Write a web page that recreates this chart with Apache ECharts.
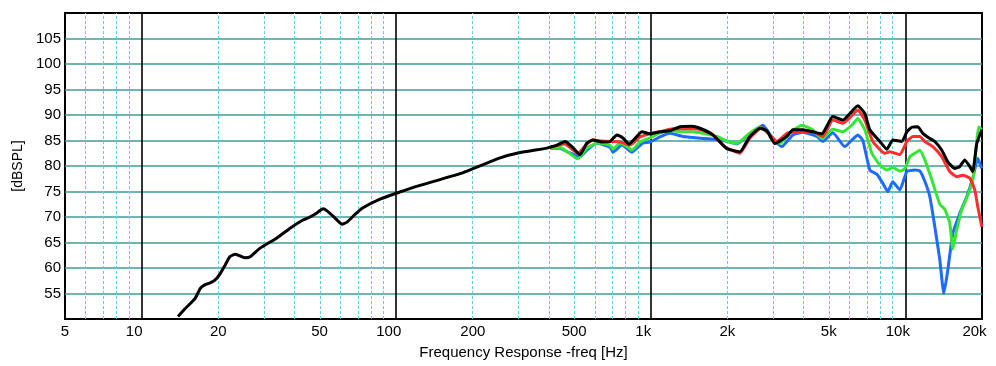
<!DOCTYPE html>
<html>
<head>
<meta charset="utf-8">
<script src="https://cdn.jsdelivr.net/npm/echarts@6/dist/echarts.min.js"></script>
<style>
html,body{margin:0;padding:0;background:#fff;}
#chart{width:996px;height:366px;}
</style>
</head>
<body>
<div id="chart"></div>
<script>
// ---- Axis ticks ----
const xTickFreqs = [5, 10, 20, 50, 100, 200, 500, 1000, 2000, 5000, 10000, 20000];
const xTickLabels = ['5', '10', '20', '50', '100', '200', '500', '1k', '2k', '5k', '10k', '20k'];
const shiftedLabels = ['10', '100', '1k', '10k', '20k'];
const minorFreqs = [6, 7, 8, 9, 20, 30, 40, 50, 60, 70, 80, 90, 200, 300, 400, 500, 600, 700, 800, 900,
  2000, 3000, 4000, 5000, 6000, 7000, 8000, 9000];
const decadeFreqs = [10, 100, 1000, 10000];
const yTicks = [55, 60, 65, 70, 75, 80, 85, 90, 95, 100, 105];

// ---- Series data (Hz, dBSPL) ----
const blackFreq = [13.9, 14.8, 16.2, 17.0, 17.7, 18.6, 19.4, 20.3, 21.3, 22.2, 23.3, 24.3, 25.5, 26.7, 29.2,
  34.0, 38.3, 43.0, 45.8, 48.8, 51.6, 53.5, 57.5, 61.2, 64.1, 68.9, 74.0, 86.4, 100.7, 124, 178, 256, 298, 391,
  402, 428, 460, 490, 527, 561, 593, 643, 691, 736, 777, 821, 882, 923, 992, 1086, 1189, 1302, 1450, 1559,
  1754, 1920, 2009, 2239, 2451, 2683, 2858, 3072, 3424, 3614, 3958, 4331, 4698, 5190, 5681, 6053, 6506,
  6931, 7253, 7938, 8457, 8926, 9686, 10132, 10602, 11192, 11710, 12476, 13052, 13905, 14680, 15640,
  16360, 17118, 17907, 18400, 19077, 19960];
const blackDb = [50.5, 52.0, 54.0, 56.0, 56.7, 57.1, 57.6, 58.8, 60.6, 62.2, 62.7, 62.4, 62.0, 62.2, 63.9,
  65.9, 67.8, 69.4, 70.0, 70.8, 71.6, 71.2, 69.8, 68.6, 69.0, 70.5, 71.8, 73.5, 74.7, 76.2, 78.5, 81.6, 82.5, 83.5,
  83.7, 84.1, 84.8, 83.8, 82.2, 84.5, 85.1, 84.7, 84.8, 86.1, 85.5, 84.3, 85.8, 86.7, 86.3, 86.7, 86.9, 87.7, 87.8, 87.4,
  86.1, 84.1, 83.3, 82.8, 85.8, 87.4, 86.9, 84.4, 85.8, 87.1, 87.1, 86.7, 86.3, 89.7, 89.0, 90.3, 91.8,
  90.3, 87.1, 84.8, 83.3, 85.1, 84.8, 86.7, 87.6, 87.7, 86.4, 85.4, 84.8, 83.1, 80.8, 79.5,
  79.9, 81.2, 79.9, 78.9, 84.4, 87.1];

const redFreq = [402, 428, 460, 490, 517, 561, 593, 643, 691, 757, 828, 907, 992, 1086, 1221, 1302, 1450, 1602,
  1754, 1954, 2239, 2451, 2732, 3128, 3455, 3958, 4331, 4741, 5190, 5681, 6053, 6506, 6931, 7453, 8305, 8690,
  9512, 10132, 10698, 11397, 11924, 12818, 13905, 14948, 15922, 16810, 17907, 18736, 19250, 19960];
const redDb = [83.6, 84.0, 84.3, 83.3, 82.5, 84.3, 85.1, 84.9, 84.8, 84.7, 84.1, 85.7, 86.3, 86.7, 87.3, 87.3, 87.3, 87.0,
  86.1, 83.8, 82.5, 85.5, 87.5, 84.8, 86.5, 86.7, 86.7, 85.8, 89.0, 88.4, 89.5, 91.0, 89.0, 84.8, 82.5, 82.8,
  82.2, 84.8, 85.8, 85.8, 84.8, 83.8, 81.8, 78.9, 77.9, 78.2, 77.6, 75.3, 72.0, 68.1];

const greenFreq = [402, 440, 473, 517, 561, 620, 691, 710, 757, 813, 843, 907, 992, 1086, 1221, 1302, 1450, 1602,
  1818, 2009, 2178, 2451, 2683, 2936, 3214, 3519, 3922, 4331, 4698, 5190, 5681, 6164, 6506, 6931, 7386, 7938,
  8457, 8926, 9512, 9952, 10411, 10893, 11397, 11924, 12703, 13656, 14287, 14948, 15359, 15922, 16658, 17588,
  18400, 19077, 19424, 19960];
const greenDb = [83.5, 83.7, 82.7, 81.4, 83.5, 84.5, 84.1, 83.3, 84.5, 83.7, 83.1, 84.7, 85.5, 86.5, 86.9, 86.7, 86.7, 86.4,
  85.8, 84.8, 84.4, 86.5, 87.6, 86.1, 84.4, 86.5, 88.0, 87.1, 85.4, 87.2, 86.7, 88.0, 89.3, 87.1, 82.5, 80.2,
  79.2, 79.7, 79.0, 79.5, 81.8, 82.5, 83.1, 81.2, 77.3, 72.5, 71.5, 68.8, 63.7, 67.5, 71.5, 74.3,
  77.2, 85.0, 87.7, 87.1];

const blueFreq = [402, 440, 473, 527, 561, 614, 691, 710, 770, 843, 882, 931, 992, 1086, 1189, 1337, 1602, 1818,
  2009, 2178, 2451, 2756, 3017, 3273, 3614, 3958, 4491, 4741, 5190, 5784, 6164, 6506, 6807, 7253, 7725, 8156,
  8533, 8926, 9512, 10132, 10893, 11397, 11924, 12476, 13052, 13656, 14159, 14680, 15359, 16360, 17431,
  18400, 19250, 19960];
const blueDb = [83.5, 83.5, 82.7, 81.8, 83.1, 84.5, 83.7, 82.7, 84.1, 82.7, 83.5, 84.5, 84.7, 85.7, 86.4, 85.8, 85.4, 85.2,
  84.8, 84.3, 86.3, 88.0, 85.4, 83.8, 86.1, 86.6, 85.8, 84.8, 86.5, 83.8, 85.1, 86.1, 85.0, 79.2, 78.4, 76.6,
  75.0, 76.9, 75.3, 78.9, 79.2, 79.0, 77.0, 74.0, 68.1, 61.6, 55.0, 59.6, 66.8, 70.7, 74.0,
  77.6, 81.5, 79.5];

// ---- Build chart ----
const lg = Math.log10;
const pairs = (fs, ds) => fs.map((f, i) => [lg(f), ds[i]]);
const font = '"Liberation Sans", Arial, sans-serif';

function makeLine(name, fs, ds, color, z) {
  return {
    name: name, type: 'line', data: pairs(fs, ds), showSymbol: false, symbol: 'none',
    smooth: 0.15, z: z, silent: true,
    lineStyle: { color: color, width: 3 }
  };
}

const gridSeries = {
  type: 'line', data: [], silent: true, z: 1,
  markLine: {
    silent: true, symbol: 'none', z: 1, animation: false,
    label: { show: false },
    data: minorFreqs.map(f => ({ xAxis: lg(f), lineStyle: { color: '#5ccfe0', width: 1, type: [3, 2] } }))
      .concat(decadeFreqs.map(f => ({ xAxis: lg(f), lineStyle: { color: '#000', width: 1.6, type: 'solid' } })))
  }
};

const chart = echarts.init(document.getElementById('chart'), null, { renderer: 'canvas' });
chart.setOption({
  animation: false,
  backgroundColor: '#fff',
  grid: { left: 65, right: 14, top: 13, bottom: 47, show: true, borderColor: '#000', borderWidth: 2, backgroundColor: 'transparent' },
  xAxis: {
    type: 'value', min: lg(5), max: lg(20000),
    axisLine: { show: false }, axisTick: { show: false }, splitLine: { show: false },
    axisLabel: {
      customValues: xTickFreqs.map(lg),
      margin: 5, fontSize: 15, color: '#000', fontFamily: font,
      formatter: function (v) {
        let best = 0, bd = 1e9;
        xTickFreqs.forEach((f, i) => { const d = Math.abs(lg(f) - v); if (d < bd) { bd = d; best = i; } });
        const t = xTickLabels[best];
        return shiftedLabels.indexOf(t) >= 0 ? '{d|' + t + '}' : t;
      },
      rich: { d: { fontSize: 15, color: '#000', fontFamily: font, padding: [0, 15, 0, 0] } }
    },
    name: 'Frequency Response -freq [Hz]', nameLocation: 'middle', nameGap: 26,
    nameTextStyle: { fontSize: 15, color: '#000', fontFamily: font }
  },
  yAxis: {
    type: 'value', min: 50, max: 110, interval: 5,
    axisLine: { show: false }, axisTick: { show: false },
    splitLine: { show: true, showMinLine: false, showMaxLine: false, lineStyle: { color: '#3f9c9c', width: 1.6 } },
    axisLabel: {
      customValues: yTicks, margin: 4, fontSize: 15, color: '#000', fontFamily: font
    },
    name: '[dBSPL]', nameLocation: 'middle', nameRotate: 90, nameGap: 34,
    nameTextStyle: { fontSize: 14, color: '#000', fontFamily: font }
  },
  series: [
    gridSeries,
    makeLine('blue', blueFreq, blueDb, '#1f6bff', 2),
    makeLine('green', greenFreq, greenDb, '#35e635', 3),
    makeLine('red', redFreq, redDb, '#ff2e2e', 4),
    makeLine('black', blackFreq, blackDb, '#000000', 5)
  ]
});
</script>
</body>
</html>
